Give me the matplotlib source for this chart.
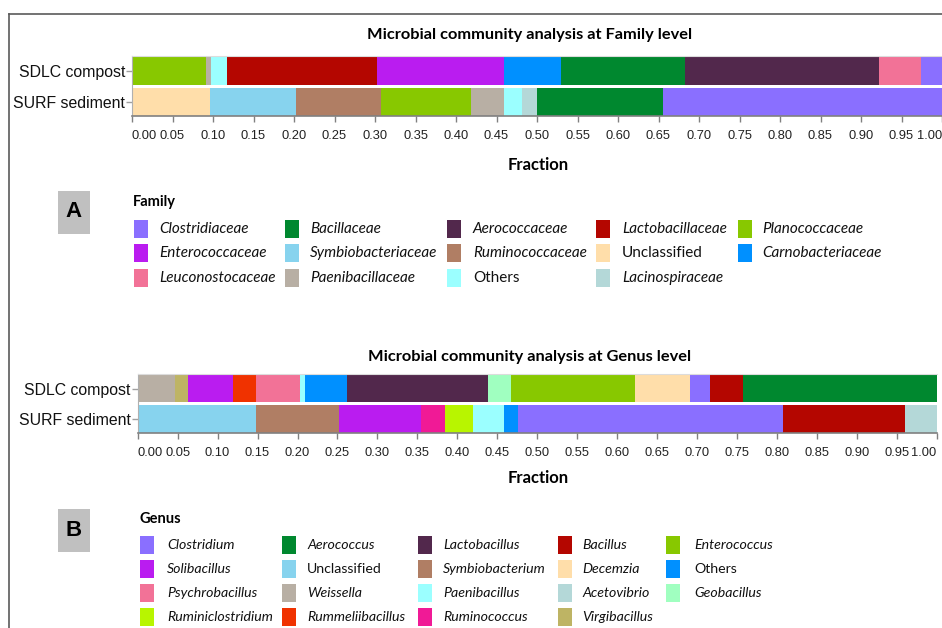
"""Stacked composition bars for the two samples at family and genus level."""

import matplotlib

matplotlib.use("Agg")

import matplotlib.pyplot as plt
import numpy as np
from matplotlib.lines import Line2D
from matplotlib.patches import Rectangle


W, H = 942, 628

samples = ["SURF sediment", "SDLC compost"]
ticks = np.round(np.arange(0, 1.0001, 0.05), 2)

# family level, stacking order left to right
family_sdlc_taxa = [
    "Planococcaceae", "Paenibacillaceae", "Others", "Lactobacillaceae",
    "Enterococcaceae", "Carnobacteriaceae", "Bacillaceae", "Aerococcaceae",
    "Leuconostocaceae", "Clostridiaceae",
]
family_sdlc_frac = [0.091, 0.006, 0.0205, 0.1855, 0.156, 0.071, 0.153, 0.239, 0.052, 0.026]

family_surf_taxa = [
    "Unclassified", "Symbiobacteriaceae", "Ruminococcaceae", "Planococcaceae",
    "Paenibacillaceae", "Others", "Lacinospiraceae", "Bacillaceae", "Clostridiaceae",
]
family_surf_frac = [0.096, 0.106, 0.1055, 0.111, 0.0405, 0.023, 0.018, 0.156, 0.344]

# genus level
genus_sdlc_taxa = [
    "Weissella", "Virgibacillus", "Solibacillus", "Rummeliibacillus",
    "Psychrobacillus", "Paenibacillus", "Others", "Lactobacillus", "Geobacillus",
    "Enterococcus", "Decemzia", "Clostridium", "Bacillus", "Aerococcus",
]
genus_sdlc_frac = [0.047, 0.0155, 0.057, 0.029, 0.0545, 0.007, 0.052, 0.176, 0.029,
                   0.1555, 0.069, 0.0245, 0.042, 0.242]

genus_surf_taxa = [
    "Unclassified", "Symbiobacterium", "Solibacillus", "Ruminococcus",
    "Ruminiclostridium", "Paenibacillus", "Others", "Clostridium", "Bacillus",
    "Acetovibrio",
]
genus_surf_frac = [0.1475, 0.104, 0.1035, 0.030, 0.035, 0.039, 0.017, 0.332, 0.152, 0.040]

family_legend = [
    "Clostridiaceae", "Bacillaceae", "Aerococcaceae", "Lactobacillaceae", "Planococcaceae",
    "Enterococcaceae", "Symbiobacteriaceae", "Ruminococcaceae", "Unclassified", "Carnobacteriaceae",
    "Leuconostocaceae", "Paenibacillaceae", "Others", "Lacinospiraceae",
]
genus_legend = [
    "Clostridium", "Aerococcus", "Lactobacillus", "Bacillus", "Enterococcus",
    "Solibacillus", "Unclassified", "Symbiobacterium", "Decemzia", "Others",
    "Psychrobacillus", "Weissella", "Paenibacillus", "Acetovibrio", "Geobacillus",
    "Ruminiclostridium", "Rummeliibacillus", "Ruminococcus", "Virgibacillus",
]

family_colors = {
    "Clostridiaceae": "#8a6fff", "Bacillaceae": "#00882f", "Aerococcaceae": "#52284c",
    "Lactobacillaceae": "#b40600", "Planococcaceae": "#88c800", "Enterococcaceae": "#ba1cf0",
    "Symbiobacteriaceae": "#87d3ee", "Ruminococcaceae": "#b07e64", "Unclassified": "#ffdeaa",
    "Carnobacteriaceae": "#0090ff", "Leuconostocaceae": "#f27297", "Paenibacillaceae": "#b8afa4",
    "Others": "#9bffff", "Lacinospiraceae": "#b4d8d8",
}
genus_colors = {
    "Clostridium": "#8a6fff", "Aerococcus": "#00882f", "Lactobacillus": "#52284c",
    "Bacillus": "#b40600", "Enterococcus": "#88c800", "Solibacillus": "#ba1cf0",
    "Unclassified": "#87d3ee", "Symbiobacterium": "#b07e64", "Decemzia": "#ffdeaa",
    "Others": "#0090ff", "Psychrobacillus": "#f27297", "Weissella": "#b8afa4",
    "Paenibacillus": "#9bffff", "Acetovibrio": "#b4d8d8", "Geobacillus": "#a0ffc0",
    "Ruminiclostridium": "#b8f500", "Rummeliibacillus": "#f03200", "Ruminococcus": "#f01a96",
    "Virgibacillus": "#beb464",
}

# these names are set upright in the legends
upright = {"Unclassified", "Others"}

LABEL_FONT = "Lato"
TICK_FONT = "Liberation Sans"


def fx(x):
    return x / W


def fy(y):
    return 1 - y / H


def draw_stack(ax, row, taxa, fracs, colors, height):
    left = 0.0
    for taxon, frac in zip(taxa, fracs):
        ax.barh(row, frac, left=left, height=height, color=colors[taxon], linewidth=0)
        left += frac


def style_axis(ax, ylim):
    ax.set_xlim(0, 1)
    ax.set_ylim(*ylim)
    ax.set_xticks(ticks)
    labels = ax.set_xticklabels([f"{t:.2f}" for t in ticks], fontfamily=TICK_FONT,
                                fontsize=9.3, color="#222222")
    # end labels are pulled inside the axis span
    labels[0].set_horizontalalignment("left")
    labels[-1].set_horizontalalignment("right")
    ax.set_yticks([0, 1])
    ax.set_yticklabels(samples, fontfamily=TICK_FONT, fontsize=11.4, color="#111111")
    ax.tick_params(axis="x", length=4, width=1, color="#808080", pad=6)
    ax.tick_params(axis="y", length=4, width=1, color="#a0a0a0", pad=1)
    ax.spines["right"].set_visible(False)
    ax.spines["top"].set_color("#dcdcdc")
    ax.spines["left"].set_color("#b0b0b0")
    ax.spines["bottom"].set_color("#808080")
    ax.spines["bottom"].set_linewidth(1.2)


def draw_legend(title, title_xy, names, colors, col_x, text_x, row_y, box_xy, letter, size):
    fig.text(fx(title_xy[0]), fy(title_xy[1]), title, fontfamily=LABEL_FONT, fontweight="bold",
             fontsize=10.5, ha="left", va="center")
    for i, name in enumerate(names):
        r, c = divmod(i, 5)
        x, y = col_x[c], row_y[r]
        fig.add_artist(Rectangle((fx(x), fy(y + 9)), 14 / W, 18 / H, transform=fig.transFigure,
                                 facecolor=colors[name], edgecolor="none"))
        fig.text(fx(text_x[c]), fy(y), name, fontfamily=LABEL_FONT,
                 fontstyle="normal" if name in upright else "italic",
                 fontsize=size, ha="left", va="center", color="#111111")
    bx, by = box_xy
    fig.add_artist(Rectangle((fx(bx), fy(by + 43)), 32 / W, 43 / H, transform=fig.transFigure,
                             facecolor="#c0c0c0", edgecolor="none"))
    fig.text(fx(bx + 16), fy(by + 21), letter, fontfamily=TICK_FONT, fontweight="bold",
             fontsize=16, ha="center", va="center")


fig = plt.figure(figsize=(W / 100, H / 100), dpi=100)

# outer frame, only the top and left edges fall inside the canvas
fig.add_artist(Line2D([fx(9), fx(9)], [fy(14), 0], transform=fig.transFigure, color="#5a5a5a", linewidth=1.2))
fig.add_artist(Line2D([fx(9), 1], [fy(14), fy(14)], transform=fig.transFigure, color="#5a5a5a", linewidth=1.2))

# family panel
ax_fam = fig.add_axes([fx(132), fy(116), 810 / W, 60 / H])
draw_stack(ax_fam, 1, family_sdlc_taxa, family_sdlc_frac, family_colors, 0.9)
draw_stack(ax_fam, 0, family_surf_taxa, family_surf_frac, family_colors, 0.9)
style_axis(ax_fam, (-0.46, 1.47))
fig.text(fx(530), fy(35), "Microbial community analysis at Family level", fontfamily=LABEL_FONT,
         fontweight="bold", fontsize=11.8, ha="center", va="center")
fig.text(fx(538), fy(165), "Fraction", fontfamily=LABEL_FONT, fontweight="bold", fontsize=12,
         ha="center", va="center")

# genus panel
ax_gen = fig.add_axes([fx(137.7), fy(433), 799 / W, 59 / H])
draw_stack(ax_gen, 1, genus_sdlc_taxa, genus_sdlc_frac, genus_colors, 0.92)
draw_stack(ax_gen, 0, genus_surf_taxa, genus_surf_frac, genus_colors, 0.92)
style_axis(ax_gen, (-0.47, 1.48))
fig.text(fx(530), fy(357), "Microbial community analysis at Genus level", fontfamily=LABEL_FONT,
         fontweight="bold", fontsize=11.8, ha="center", va="center")
fig.text(fx(538), fy(478), "Fraction", fontfamily=LABEL_FONT, fontweight="bold", fontsize=12,
         ha="center", va="center")

draw_legend("Family", (133, 202), family_legend, family_colors,
            col_x=[134, 285, 447, 596, 738], text_x=[159, 310, 473, 622, 762],
            row_y=[229, 253, 278], box_xy=(58, 191), letter="A", size=11)
draw_legend("Genus", (139, 519), genus_legend, genus_colors,
            col_x=[140, 282, 418, 558, 666], text_x=[167, 307, 443, 582, 694],
            row_y=[545, 569, 593, 617], box_xy=(58, 509), letter="B", size=10.2)

fig.savefig("out.png", dpi=100)
plt.close(fig)
